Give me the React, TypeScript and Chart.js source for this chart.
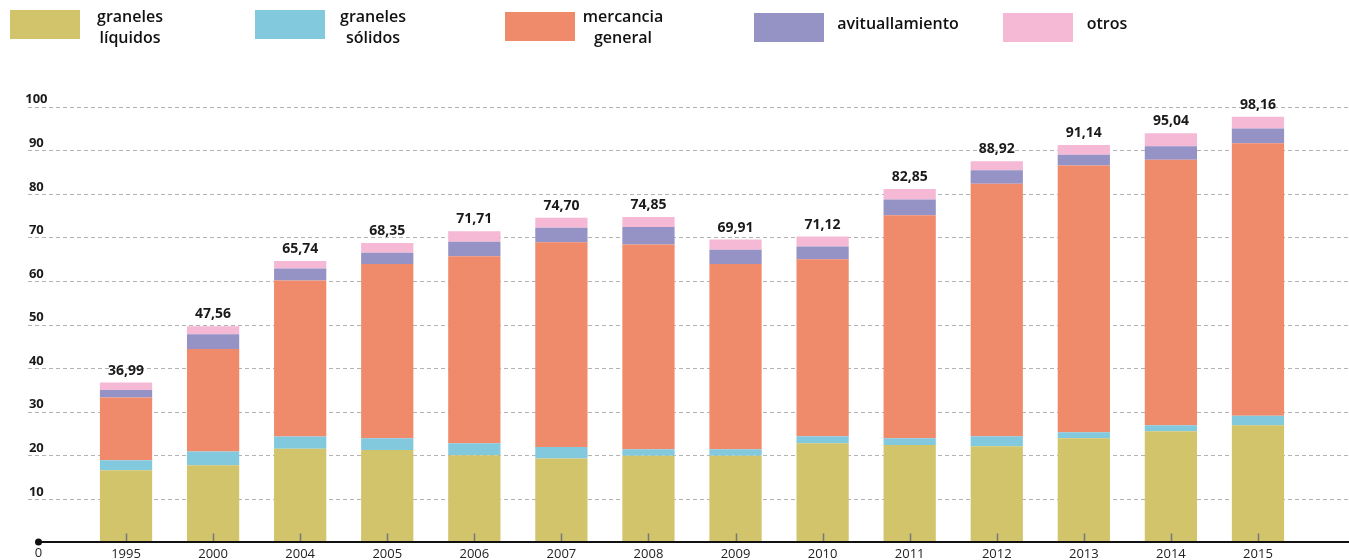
import React, { useEffect, useRef } from "react";
import { Chart, registerables } from "chart.js";

Chart.register(...registerables);

const categories = ["1995", "2000", "2004", "2005", "2006", "2007", "2008", "2009", "2010", "2011", "2012", "2013", "2014", "2015"];

const granelesLiquidos = [16.6, 17.7, 21.5, 21.2, 20.0, 19.3, 19.9, 19.9, 22.8, 22.4, 22.1, 23.9, 25.5, 26.9];
const granelesSolidos = [2.3, 3.2, 2.8, 2.7, 2.8, 2.6, 1.5, 1.5, 1.6, 1.5, 2.3, 1.4, 1.4, 2.2];
const mercanciaGeneral = [14.4, 23.5, 35.8, 40.0, 42.9, 47.0, 47.0, 42.5, 40.6, 51.2, 57.9, 61.2, 60.9, 62.5];
const avituallamiento = [1.7, 3.4, 2.8, 2.6, 3.3, 3.3, 4.0, 3.3, 2.9, 3.6, 3.1, 2.5, 3.1, 3.4];
const otros = [1.7, 1.8, 1.7, 2.2, 2.4, 2.3, 2.3, 2.3, 2.3, 2.4, 2.1, 2.2, 3.0, 2.7];

const totals = [36.99, 47.56, 65.74, 68.35, 71.71, 74.7, 74.85, 69.91, 71.12, 82.85, 88.92, 91.14, 95.04, 98.16];

const seriesNames = ["graneles líquidos", "graneles sólidos", "mercancia general", "avituallamiento", "otros"];
const seriesColors = ["#D1C46B", "#82C9DE", "#EF8A6B", "#9592C6", "#F5B9D5"];

const yMin = 0;
const yMax = 100;
const yStep = 10;

const FONT = "'Open Sans', 'DejaVu Sans', sans-serif";

const fmt = (v: number) => v.toFixed(2).replace(".", ",");

const decorPlugin = {
  id: "decor",
  beforeDatasetsDraw(chart: any) {
    const { ctx, scales, width } = chart;
    const y = scales.y;
    ctx.save();
    ctx.strokeStyle = "#b3b3b3";
    ctx.lineWidth = 1;
    ctx.setLineDash([4, 3]);
    for (let v = yMin + yStep; v <= yMax; v += yStep) {
      const py = Math.round(y.getPixelForValue(v)) + 0.5;
      ctx.beginPath();
      ctx.moveTo(28, py);
      ctx.lineTo(width, py);
      ctx.stroke();
    }
    ctx.restore();
  },
  afterDatasetsDraw(chart: any) {
    const { ctx, scales, width, data } = chart;
    const x = scales.x;
    const y = scales.y;
    const base = y.getPixelForValue(0);
    ctx.save();
    ctx.strokeStyle = "#777";
    ctx.lineWidth = 1.5;
    categories.forEach((_, i) => {
      const px = Math.round(x.getPixelForValue(i)) + 0.5;
      ctx.beginPath();
      ctx.moveTo(px, base - 9);
      ctx.lineTo(px, base);
      ctx.stroke();
    });
    ctx.strokeStyle = "#111";
    ctx.lineWidth = 2;
    ctx.beginPath();
    ctx.moveTo(38.5, base - 0.5);
    ctx.lineTo(width, base - 0.5);
    ctx.stroke();
    ctx.fillStyle = "#111";
    ctx.beginPath();
    ctx.arc(38.5, base - 0.5, 3.5, 0, Math.PI * 2);
    ctx.fill();
    ctx.font = `13px ${FONT}`;
    ctx.fillStyle = "#222";
    ctx.textAlign = "center";
    ctx.textBaseline = "middle";
    ctx.fillText("0", 38.5, base + 11);
    ctx.font = `bold 14px ${FONT}`;
    ctx.fillStyle = "#1a1a1a";
    totals.forEach((t, i) => {
      let sum = 0;
      data.datasets.forEach((ds: any) => (sum += ds.data[i]));
      const px = x.getPixelForValue(i);
      const py = y.getPixelForValue(sum);
      ctx.fillText(fmt(t), px, py - 12);
    });
    ctx.restore();
  },
};

const legendItems = [
  { lines: ["graneles", "líquidos"], sw: [10, 10], tx: 130 },
  { lines: ["graneles", "sólidos"], sw: [255, 10], tx: 373 },
  { lines: ["mercancia", "general"], sw: [505, 12], tx: 623 },
  { lines: ["avituallamiento"], sw: [754, 13], tx: 898 },
  { lines: ["otros"], sw: [1003, 13], tx: 1107 },
];

export default function App() {
  const canvasRef = useRef<HTMLCanvasElement | null>(null);

  useEffect(() => {
    const canvas = canvasRef.current;
    if (!canvas) return;
    const seriesData = [granelesLiquidos, granelesSolidos, mercanciaGeneral, avituallamiento, otros];
    const chart = new Chart(canvas, {
      type: "bar",
      data: {
        labels: categories,
        datasets: seriesData.map((d, i) => ({
          label: seriesNames[i],
          data: d,
          backgroundColor: seriesColors[i],
          borderWidth: 0,
          categoryPercentage: 1,
          barPercentage: 0.6,
        })),
      },
      options: {
        responsive: false,
        animation: false,
        devicePixelRatio: 1,
        layout: { padding: { top: 106.7, left: 0, right: 47.5, bottom: 0 } },
        plugins: { legend: { display: false }, tooltip: { enabled: false } },
        scales: {
          x: {
            stacked: true,
            offset: true,
            grid: { display: false, drawTicks: false },
            border: { display: false },
            ticks: { color: "#222", font: { family: FONT, size: 13 }, padding: 4, maxRotation: 0 },
            afterFit: (s: any) => {
              s.height = 17.5;
              s.paddingLeft = 0;
              s.paddingRight = 0;
            },
          },
          y: {
            stacked: true,
            min: yMin,
            max: yMax,
            grid: { display: false, drawTicks: false },
            border: { display: false },
            ticks: {
              stepSize: yStep,
              color: "#1a1a1a",
              font: { family: FONT, size: 13, weight: "bold" },
              crossAlign: "center",
              padding: 35,
              labelOffset: -7,
              callback: (v: any) => (v === 0 ? "" : String(v)),
            },
            afterFit: (s: any) => {
              s.width = 82.5;
              s.paddingTop = 0;
              s.paddingBottom = 0;
            },
          },
        },
      },
      plugins: [decorPlugin],
    } as any);
    return () => chart.destroy();
  }, []);

  return (
    <div style={{ position: "fixed", left: 0, top: 0, width: 1349, height: 560, background: "#fff", fontFamily: FONT }}>
      <canvas ref={canvasRef} width={1349} height={560} style={{ position: "absolute", left: 0, top: 0, display: "block" }} />
      {legendItems.map((it, i) => (
        <React.Fragment key={i}>
          <div
            style={{
              position: "absolute",
              left: it.sw[0],
              top: it.sw[1],
              width: 70,
              height: 29,
              background: seriesColors[i],
            }}
          />
          <div
            style={{
              position: "absolute",
              left: it.tx - 80,
              width: 160,
              top: it.lines.length > 1 ? 6 : 13,
              textAlign: "center",
              fontSize: 16,
              fontWeight: 600,
              lineHeight: "21px",
              color: "#111",
            }}
          >
            {it.lines.map((l, j) => (
              <div key={j}>{l}</div>
            ))}
          </div>
        </React.Fragment>
      ))}
    </div>
  );
}
